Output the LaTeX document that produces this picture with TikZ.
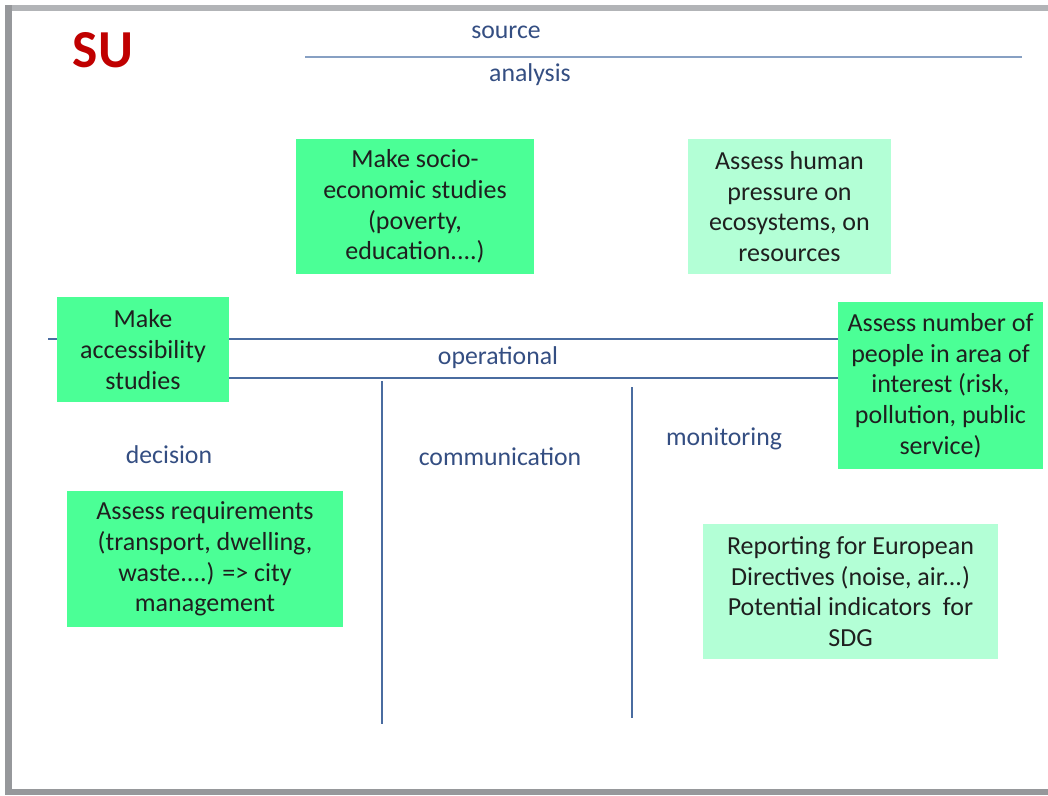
\documentclass[tikz,border=0pt]{standalone}
\usepackage{fontspec}
\setmainfont{Carlito}
\usetikzlibrary{calc}
\definecolor{frameColor}{RGB}{150,152,155}
\definecolor{frameTop}{RGB}{178,180,183}
\definecolor{axisColor}{RGB}{74,108,160}
\definecolor{topColor}{RGB}{135,160,195}
\definecolor{labColor}{RGB}{52,78,130}
\definecolor{suColor}{RGB}{192,0,0}
\definecolor{taskColor}{RGB}{75,255,150}
\definecolor{lightColor}{RGB}{179,255,214}
\tikzset{
  task/.style={fill=taskColor,draw=none,inner sep=0pt,align=center,
    font=\fontsize{18.5}{21.8}\selectfont,text=black!88},
  lighttask/.style={task,fill=lightColor},
  lab/.style={text=labColor,inner sep=0pt,font=\fontsize{18.3}{21}\selectfont},
  axis/.style={draw=axisColor,line width=1.3pt}
}

\begin{document}
\begin{tikzpicture}[x=0.025cm,y=-0.025cm]
    \fill[white] (0,0) rectangle (1048,796);
    % slide frame
    \fill[frameTop] (5,5) rectangle (1048,11);
    \fill[frameColor] (5,5) rectangle (12,795);
    \fill[frameColor] (5,789) rectangle (1048,795);

    \node[text=suColor,font=\fontsize{38}{42}\selectfont\bfseries] (SU) at (103,50) {SU};

    % source / analysis
    \coordinate (srcL) at (305,57);
    \coordinate (srcR) at (1022,57);
    \draw[draw=topColor,line width=2pt] (srcL) -- (srcR);
    \node[lab] (src) at (506,32) {source};
    \node[lab] (ana) at (530,75) {analysis};

    % operational band
    \coordinate (opL) at (48,339);
    \coordinate (opT) at (838,339);
    \coordinate (opM) at (229,378);
    \coordinate (opB) at (838,378);
    \draw[axis] (opL) -- (opT);
    \draw[axis] (opM) -- (opB);
    \node[lab] (op) at (498,358) {operational};

    % decision / communication / monitoring
    \coordinate (c1T) at (382,381);
    \coordinate (c1B) at (382,724);
    \coordinate (c2T) at (632,387);
    \coordinate (c2B) at (632,718);
    \draw[axis] (c1T) -- (c1B);
    \draw[axis] (c2T) -- (c2B);
    \node[lab] (dec) at (169,455) {decision};
    \node[lab] (com) at (500,457) {communication};
    \node[lab] (mon) at (724,439) {monitoring};

    \node[task,minimum width=5.95cm,minimum height=3.375cm] (socio) at (415,206.5)
      {Make socio-\\economic studies\\(poverty,\\education....)};
    \node[lighttask,minimum width=5.075cm,minimum height=3.375cm] (human) at (789.5,206.5)
      {Assess human\\pressure on\\ecosystems, on\\resources};
    \node[task,minimum width=4.3cm,minimum height=2.625cm] (access) at (143,349.5)
      {Make\\accessibility\\studies};
    \node[task,minimum width=5.125cm,minimum height=4.175cm] (people) at (940.5,385.5)
      {Assess number of\\people in area of\\interest (risk,\\pollution, public\\service)};
    \node[task,minimum width=6.9cm,minimum height=3.4cm] (requ) at (205,559)
      {Assess requirements\\(transport, dwelling,\\waste....) => city\\management};
    \node[lighttask,minimum width=7.375cm,minimum height=3.375cm] (report) at (850.5,591.5)
      {Reporting for European\\Directives (noise, air...)\\Potential indicators~ for\\SDG};
\end{tikzpicture}
\end{document}
